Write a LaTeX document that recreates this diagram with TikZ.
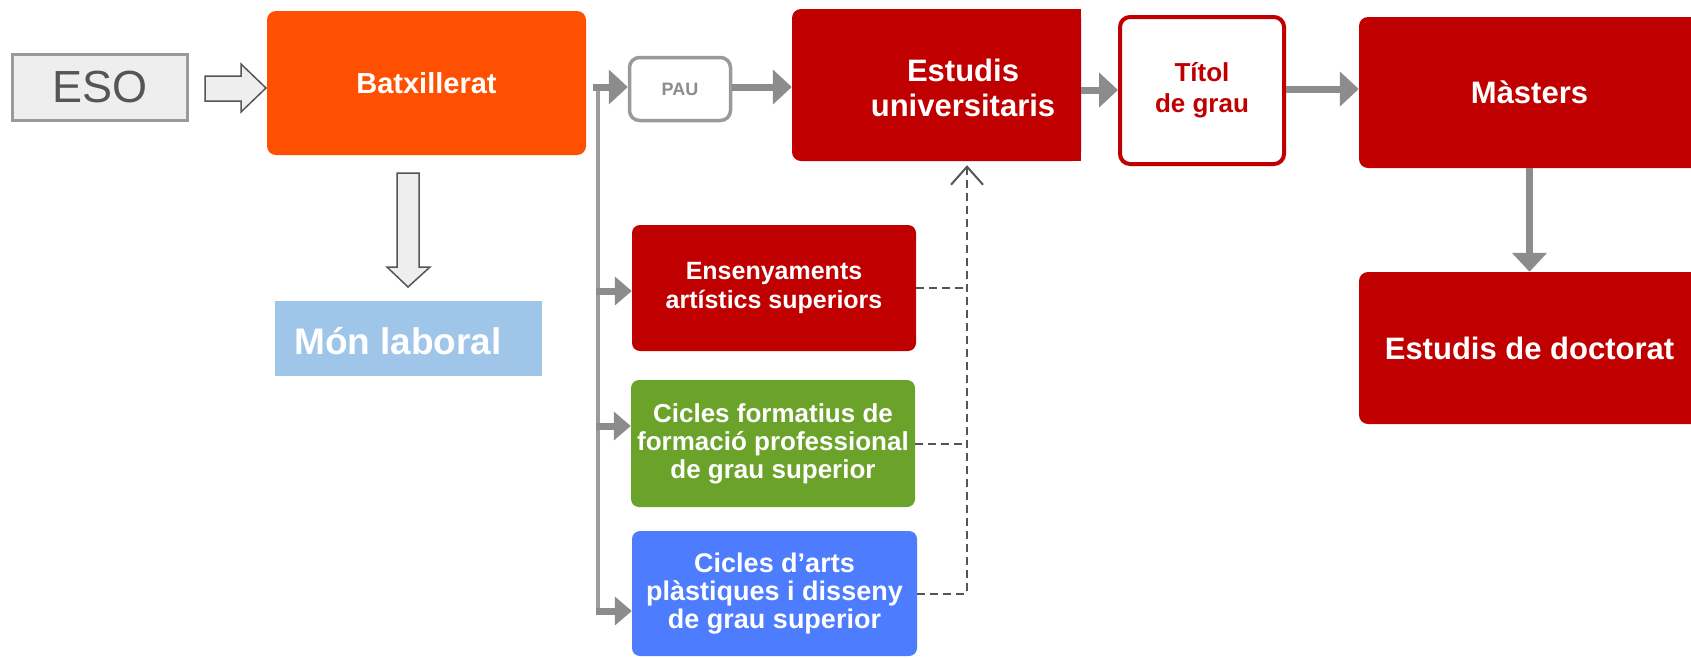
\documentclass[tikz,border=0pt]{standalone}
\usepackage{fontspec}
\setmainfont{Liberation Sans}
\usetikzlibrary{arrows.meta,calc}
\definecolor{batxOrange}{HTML}{FF4F00}
\definecolor{uniRed}{HTML}{C00000}
\definecolor{cfGreen}{HTML}{6BA32A}
\definecolor{apBlue}{HTML}{4D7CFE}
\definecolor{monBlue}{HTML}{9FC5E8}
\definecolor{esoFill}{HTML}{EEEEEE}
\definecolor{esoEdge}{HTML}{9A9A9A}
\definecolor{arrowGray}{HTML}{8C8C8C}
\definecolor{lineGray}{HTML}{9C9C9C}
\definecolor{dashGray}{HTML}{555555}
\definecolor{hollowEdge}{HTML}{555555}
\newcommand{\fs}[2]{\fontsize{#1}{#2}\selectfont}
\tikzset{
  box/.style={rounded corners=9pt, inner sep=0pt, text=white, font=\bfseries, align=center},
  garrow/.style={draw=arrowGray, line width=7pt, -{Triangle[length=19pt,width=34pt]}},
  sarrow/.style={draw=arrowGray, line width=7pt, -{Triangle[length=17pt,width=28pt]}},
  vline/.style={draw=lineGray, line width=4pt},
  dline/.style={draw=dashGray, line width=2pt, dash pattern=on 8pt off 5pt},
  hollow/.style={fill=esoFill, draw=hollowEdge, line width=1.5pt, line join=miter},
}
\begin{document}
\begin{tikzpicture}[x=1pt,y=-1pt]
\useasboundingbox (0,0) rectangle (1691,657);
\clip (0,0) rectangle (1691,657);
% ESO
\node[fill=esoFill, draw=esoEdge, line width=3pt, minimum width=175pt, minimum height=66pt, inner sep=0pt, text=hollowEdge, font=\fs{45}{50}] (eso) at (100,87.5) {ESO};
% hollow arrow ESO -> Batx
\filldraw[hollow] (205,76) -- (241,76) -- (241,64) -- (266,88) -- (241,112) -- (241,101) -- (205,101) -- cycle;
% Batxillerat
\node[box, fill=batxOrange, minimum width=319pt, minimum height=144pt, font=\bfseries\fs{29}{34}] (batx) at (426.5,83) {Batxillerat};
% hollow arrow down
\filldraw[hollow] (397,173) -- (419,173) -- (419,267) -- (430,267) -- (408,287) -- (387,267) -- (397,267) -- cycle;
% Mon laboral
\node[fill=monBlue, minimum width=267pt, minimum height=75pt, inner sep=0pt] (mon) at (408.5,338.5) {};
\node[anchor=base west, inner sep=0pt, text=white, font=\bfseries\fs{37}{42}] (montxt) at (294,354) {Món laboral};
% PAU
\node[rounded corners=10pt, fill=white, draw=esoEdge, line width=3.5pt, minimum width=101pt, minimum height=63pt, inner sep=0pt, text=arrowGray, font=\bfseries\fs{18}{21}] (pau) at (680,89) {PAU};
% Estudis universitaris
\node[box, fill=uniRed, minimum width=289pt, minimum height=152pt] (est) at (936.5,85) {};
\fill[uniRed] (1060,9) rectangle (1081,161);
\node[text=white, font=\bfseries\fs{31}{35}, align=center, inner sep=0pt] (esttxt) at (963,88) {Estudis\\universitaris};
% Titol de grau
\node[rounded corners=10pt, fill=white, draw=uniRed, line width=4pt, minimum width=164pt, minimum height=147pt, inner sep=0pt, text=uniRed, font=\bfseries\fs{26}{31}, align=center] (tit) at (1202,90.5) {Títol\\de grau};
% Masters
\node[box, fill=uniRed, minimum width=341pt, minimum height=151pt, font=\bfseries\fs{31}{36}] (mas) at (1529.5,92.5) {Màsters};
% Doctorat
\node[box, fill=uniRed, minimum width=341pt, minimum height=152pt, font=\bfseries\fs{31}{36}] (doc) at (1529.5,348) {Estudis de doctorat};
% lower boxes
\node[box, rounded corners=8pt, fill=uniRed, minimum width=284pt, minimum height=126pt, font=\bfseries\fs{25}{29}] (ens) at (774,288) {Ensenyaments\\artístics superiors};
\node[box, rounded corners=8pt, fill=cfGreen, minimum width=284pt, minimum height=127pt, font=\bfseries\fs{26}{28}] (cfp) at (773,443.5) {Cicles formatius de\\formació professional\\de grau superior};
\node[box, rounded corners=8pt, fill=apBlue, minimum width=285pt, minimum height=125pt, font=\bfseries\fs{27}{28}] (cap) at (774.5,593.5) {Cicles d’arts\\plàstiques i disseny\\de grau superior};
% main gray arrows
\draw[garrow, shorten <=7pt] (batx.east |- 0,87) -- (pau.west |- 0,87);
\draw[garrow] (pau.east |- 0,87) -- (est.west |- 0,87);
\draw[garrow] (est.east |- 0,90) -- (tit.west |- 0,90);
\draw[garrow] (tit.east |- 0,89) -- (mas.west |- 0,89);
\draw[garrow] (mas.south) -- (doc.north);
% branch line
\coordinate (vx) at (598,0);
\coordinate (vtop) at (598,91);
\coordinate (vbot) at (598,615);
\draw[vline] (vtop) -- (vbot);
\coordinate (ensin) at ($(ens.west)+(0,3)$);
\coordinate (cfpin) at ($(cfp.west)+(0,-17.5)$);
\coordinate (capin) at ($(cap.west)+(0,17.5)$);
\draw[sarrow] ($(vx |- ensin)+(-2,0)$) -- (ensin);
\draw[sarrow] ($(vx |- cfpin)+(-2,0)$) -- (cfpin);
\draw[sarrow] ($(vx |- capin)+(-2,0)$) -- (capin);
% dashed connectors
\coordinate (dx) at (967,0);
\draw[dline] (ens.east) -- (ens.east -| dx);
\draw[dline] (cfp.east) -- (cfp.east -| dx);
\draw[dline, -{Straight Barb[length=18pt,width=32pt,line width=2pt]}] (cap.east) -| ($(est.south -| dx)+(0,4)$);
\end{tikzpicture}
\end{document}
